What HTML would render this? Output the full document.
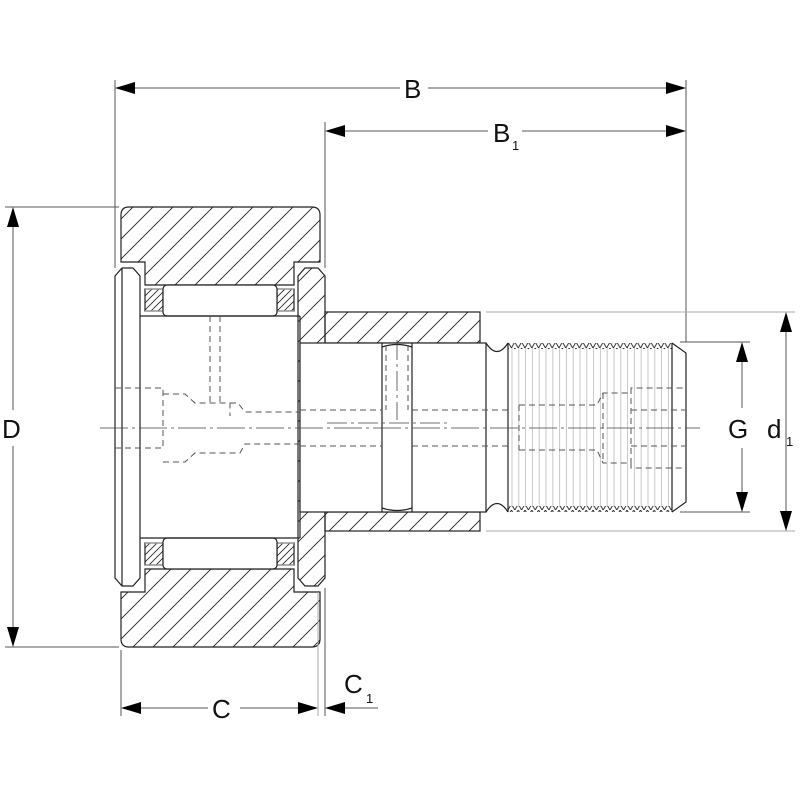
<!DOCTYPE html>
<html><head><meta charset="utf-8"><style>body{margin:0;background:#fff}svg{display:block}text{font-family:"Liberation Sans","DejaVu Sans",sans-serif;fill:#111}</style></head><body>
<svg width="800" height="800" viewBox="0 0 800 800" xmlns="http://www.w3.org/2000/svg">
<defs>
<pattern id="h" width="20" height="20" patternUnits="userSpaceOnUse" patternTransform="rotate(0)">
<path d="M-5,25 L25,-5 M-5,5 L5,-5 M15,25 L25,15" stroke="#222" stroke-width="0.9"/></pattern>
<pattern id="hf" width="7" height="7" patternUnits="userSpaceOnUse">
<path d="M-2,9 L9,-2 M-2,2 L2,-2 M5,9 L9,5" stroke="#222" stroke-width="0.8"/></pattern>
<pattern id="zz" x="508" y="0" width="6.8" height="6" patternUnits="userSpaceOnUse">
<polyline points="0,0 3.4,6 6.8,0" fill="none" stroke="#222" stroke-width="0.9"/></pattern>
<pattern id="zb" x="508" y="0" width="6.8" height="6" patternUnits="userSpaceOnUse">
<polyline points="0,6 3.4,0 6.8,6" fill="none" stroke="#222" stroke-width="0.9"/></pattern>
<pattern id="tl" x="511" y="0" width="6.8" height="10" patternUnits="userSpaceOnUse">
<line x1="1" y1="0" x2="1" y2="10" stroke="#bbb" stroke-width="0.8"/></pattern>
</defs>
<g fill="none" stroke="#222" stroke-width="1.2">
<!-- outer ring -->
<path d="M121,215 Q121,207 129,207 L312,207 Q320,207 320,215 L320,262 L294,262 L294,285 L145,285 L145,262 L121,262 Z" fill="url(#h)"/>
<path d="M121,639 Q121,647 129,647 L312,647 Q320,647 320,639 L320,592 L294,592 L294,569 L145,569 L145,592 L121,592 Z" fill="url(#h)"/>
<!-- cages -->
<rect x="145" y="289" width="18" height="22" fill="url(#hf)"/><rect x="277" y="289" width="17" height="22" fill="url(#hf)"/>
<rect x="145" y="543" width="18" height="22" fill="url(#hf)"/><rect x="277" y="543" width="17" height="22" fill="url(#hf)"/>
<line x1="145" y1="289" x2="294" y2="289" stroke="#999"/><line x1="145" y1="311" x2="294" y2="311" stroke="#999"/>
<line x1="145" y1="543" x2="294" y2="543" stroke="#999"/><line x1="145" y1="565" x2="294" y2="565" stroke="#999"/>
<!-- rollers -->
<rect x="163" y="285" width="114" height="31" rx="4" fill="#fff"/>
<rect x="163" y="538" width="114" height="31" rx="4" fill="#fff"/>
<!-- left plate -->
<path d="M115,276 L122,268 L133,268 L140,276 L140,578 L133,586 L122,586 L115,578 Z" fill="#fff"/>
<line x1="122" y1="268" x2="122" y2="586"/>
<!-- stud head -->
<line x1="140" y1="316" x2="300" y2="316"/><line x1="140" y1="538" x2="300" y2="538"/>
<line x1="300" y1="316" x2="300" y2="538"/>
<!-- right washer -->
<path d="M298,276 L305,268 L318,268 L325,276 L325,578 L318,586 L305,586 L298,578 Z" fill="url(#h)"/>
<rect x="300" y="343" width="25" height="169" fill="#fff" stroke="none"/>
<!-- shoulder -->
<rect x="325" y="312" width="155" height="31" fill="url(#h)"/>
<rect x="325" y="512" width="155" height="19" fill="url(#h)"/>
<!-- shank -->
<rect x="300" y="343" width="186" height="169" fill="#fff"/>
<line x1="382" y1="343" x2="382" y2="512"/><line x1="412" y1="343" x2="412" y2="512"/>
<path d="M382,347 Q397,342 412,347 M382,508 Q397,513 412,508" />
<!-- neck -->
<path d="M486,343 Q497,360 508,343 M486,512 Q497,495 508,512"/>
<!-- thread -->
<rect x="508" y="348" width="164" height="159" fill="url(#tl)" stroke="none"/>
<rect x="508" y="343" width="164" height="6" fill="url(#zz)" stroke="none"/>
<rect x="508" y="506" width="164" height="6" fill="url(#zb)" stroke="none"/>
<line x1="508" y1="343" x2="508" y2="512"/>
<line x1="672" y1="343" x2="672" y2="512"/>
<path d="M672,343 L686,353 L686,502 L672,512"/>
</g>
<!-- hidden lines -->
<g fill="none" stroke="#555" stroke-width="1" stroke-dasharray="6,4">
<path d="M115,388 L163,388 L163,448 L115,448"/>
<path d="M163,394 L185,394 L195,403 L230,403 L230,416 M230,403 L238,403 L245,412 L300,412"/>
<path d="M163,462 L185,462 L195,453 L230,453 L240,453 L245,444 L300,444"/>
<path d="M210,316 L210,403 M220,316 L220,403"/>
<path d="M300,410 L382,410 M412,410 L508,410 M300,446 L382,446 M412,446 L508,446"/>
<path d="M386,345 L386,410 M408,345 L408,410"/>
<path d="M519,405 L597,405 L603,393 L631,393 L631,388 L685,388 M519,450 L597,450 L603,463 L631,463 L631,468 L685,468"/>
<path d="M519,405 L519,450 M603,393 L603,463 M631,388 L631,468 M631,410 L685,410 M631,446 L685,446"/>
</g>
<!-- centerline -->
<line x1="100" y1="428" x2="700" y2="428" stroke="#444" stroke-width="0.8" stroke-dasharray="28,4,3,4"/>
<line x1="327" y1="423" x2="447" y2="423" stroke="#444" stroke-width="0.8" stroke-dasharray="20,4,3,4"/>
<line x1="397" y1="340" x2="397" y2="420" stroke="#444" stroke-width="0.8" stroke-dasharray="20,4,3,4"/>
<!-- extension lines -->
<g stroke="#555" stroke-width="1">
<line x1="115" y1="80" x2="115" y2="268"/><line x1="686" y1="80" x2="686" y2="342"/>
<line x1="325" y1="122" x2="325" y2="268"/>
<line x1="5" y1="207" x2="119" y2="207"/><line x1="5" y1="647" x2="119" y2="647"/>
<line x1="121" y1="650" x2="121" y2="716"/><line x1="318" y1="592" x2="318" y2="716" stroke="#aaa"/><line x1="325" y1="588" x2="325" y2="716"/>
<line x1="680" y1="342" x2="750" y2="342"/><line x1="680" y1="512" x2="750" y2="512"/>
<line x1="486" y1="312" x2="795" y2="312" stroke="#aaa"/><line x1="486" y1="531" x2="795" y2="531" stroke="#aaa"/>
</g>
<!-- dimension lines -->
<g stroke="#aaa" stroke-width="2">
<line x1="135" y1="88" x2="400" y2="88"/><line x1="428" y1="88" x2="666" y2="88"/>
<line x1="345" y1="131" x2="488" y2="131"/><line x1="522" y1="131" x2="666" y2="131"/>
<line x1="13" y1="227" x2="13" y2="410"/><line x1="13" y1="446" x2="13" y2="627"/>
<line x1="141" y1="708" x2="208" y2="708"/><line x1="240" y1="708" x2="298" y2="708"/>
<line x1="345" y1="708" x2="378" y2="708"/>
<line x1="742" y1="362" x2="742" y2="408"/><line x1="742" y1="448" x2="742" y2="492"/>
<line x1="786" y1="332" x2="786" y2="511"/>
</g>
<g fill="#000">
<path d="M115,88 L135,82 L135,94Z"/><path d="M686,88 L666,82 L666,94Z"/>
<path d="M325,131 L345,125 L345,137Z"/><path d="M686,131 L666,125 L666,137Z"/>
<path d="M13,207 L7,227 L19,227Z"/><path d="M13,647 L7,627 L19,627Z"/>
<path d="M121,708 L141,702 L141,714Z"/><path d="M318,708 L298,702 L298,714Z"/>
<path d="M325,708 L345,702 L345,714Z"/>
<path d="M742,342 L736,362 L748,362Z"/><path d="M742,512 L736,492 L748,492Z"/>
<path d="M786,312 L780,332 L792,332Z"/><path d="M786,531 L780,511 L792,511Z"/>
</g>
<g font-size="26">
<text x="404" y="98">B</text>
<text x="493" y="142">B</text><text x="512" y="150" font-size="13">1</text>
<text x="2" y="438">D</text>
<text x="212" y="718">C</text>
<text x="344" y="693">C</text><text x="366" y="703" font-size="13">1</text>
<text x="728" y="438">G</text>
<text x="767" y="438">d</text><text x="786" y="446" font-size="13">1</text>
</g>
</svg>
</body></html>
